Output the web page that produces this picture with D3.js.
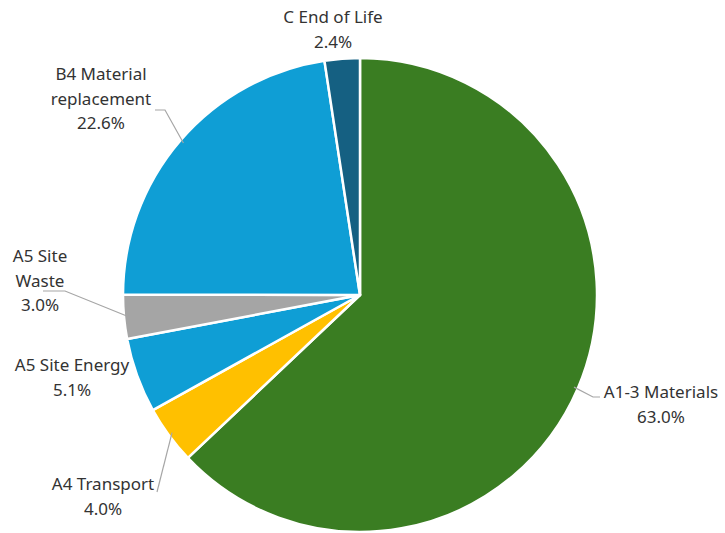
<!DOCTYPE html>
<html lang="en">
<head>
    <meta charset="UTF-8">
    <title>Life cycle stages pie</title>
    <script src="https://d3js.org/d3.v7.min.js"></script>
    <style>
        body { margin: 0; background: #fff; }
    </style>
</head>
<body>
    <script>
        // data
        var stages = ["A1-3 Materials", "A4 Transport", "A5 Site Energy", "A5 Site Waste", "B4 Material replacement", "C End of Life"];
        var shares = [63.0, 4.0, 5.1, 3.0, 22.6, 2.4];
        var colours = ["#3a7d22", "#ffc000", "#0f9ed5", "#a5a5a5", "#0f9ed5", "#156082"];

        // label lines and where they sit
        var labelLines = [["A1-3 Materials", "63.0%"], ["A4 Transport", "4.0%"], ["A5 Site Energy", "5.1%"],
                          ["A5 Site", "Waste", "3.0%"], ["B4 Material", "replacement", "22.6%"], ["C End of Life", "2.4%"]];
        var labelPos = [[661, 393], [103, 485], [72, 366], [40, 257], [101, 75], [333, 18]];
        // leader line bends, the last point is added on the slice edge
        var leaders = [
            [[600, 397], [593, 397]],
            [[157, 492]],
            null,
            [[43, 291], [65, 291]],
            [[155, 110], [165, 110]],
            null
        ];

        var width = 725, height = 533;
        var cx = 360, cy = 295, r = 237;

        var svg = d3.select("body").append("svg")
            .attr("width", width)
            .attr("height", height);

        var data = stages.map(function(s, i) { return { name: s, value: shares[i], i: i }; });

        var pie = d3.pie().sort(null).value(function(d) { return d.value; });
        var arc = d3.arc().innerRadius(0).outerRadius(r);
        var arcs = pie(data);

        var g = svg.append("g").attr("transform", "translate(" + cx + "," + cy + ")");

        g.selectAll("path")
            .data(arcs)
            .enter().append("path")
            .attr("d", arc)
            .attr("fill", function(d) { return colours[d.data.i]; })
            .attr("stroke", "#fff")
            .attr("stroke-width", 2.5)
            .attr("stroke-linejoin", "round");

        // leader lines end on the slice edge at its mid angle
        arcs.forEach(function(a, i) {
            if (!leaders[i]) return;
            var mid = (a.startAngle + a.endAngle) / 2;
            var ex = cx + Math.sin(mid) * (r - 4);
            var ey = cy - Math.cos(mid) * (r - 4);
            var pts = leaders[i].concat([[ex, ey]]);
            svg.append("path")
                .attr("d", d3.line()(pts))
                .attr("fill", "none")
                .attr("stroke", "#a6a6a6")
                .attr("stroke-width", 1.2);
        });

        labelLines.forEach(function(lines, i) {
            var t = svg.append("text")
                .attr("x", labelPos[i][0])
                .attr("y", labelPos[i][1])
                .attr("text-anchor", "middle")
                .attr("dominant-baseline", "middle")
                .attr("font-family", "Noto Sans, sans-serif")
                .attr("font-size", 17)
                .attr("fill", "#333333");
            lines.forEach(function(l, k) {
                t.append("tspan")
                    .attr("x", labelPos[i][0])
                    .attr("dy", k === 0 ? 0 : 24.5)
                    .text(l);
            });
        });
    </script>
</body>
</html>
